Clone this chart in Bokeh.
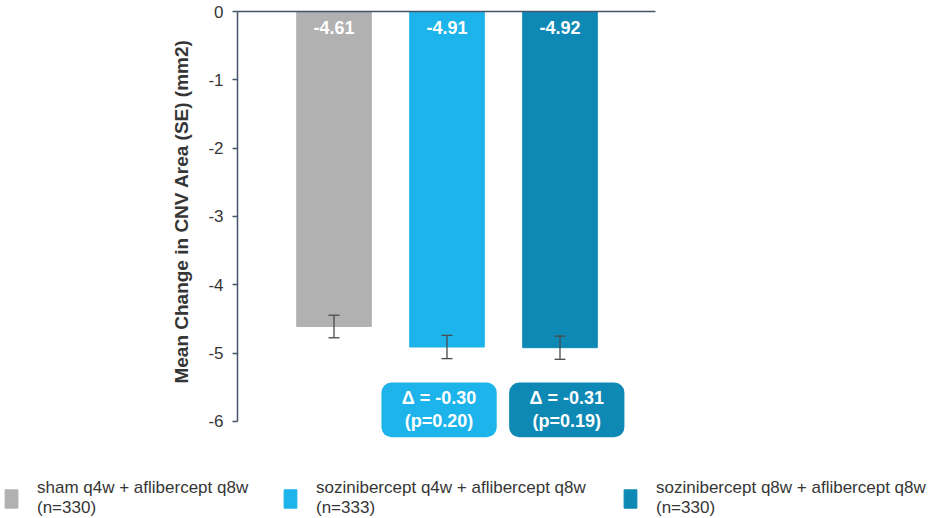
import math
from bokeh.plotting import figure
from bokeh.models import (ColumnDataSource, Range1d, FixedTicker, Whisker,
                          TeeHead, BoxAnnotation, Legend, LegendItem, Label)
from bokeh.embed import file_html
from bokeh.resources import INLINE
from bokeh.core.properties import value

# ---- data ----
groups = ["sham q4w + aflibercept q8w", "sozinibercept q4w + aflibercept q8w",
          "sozinibercept q8w + aflibercept q8w"]
n_labels = ["(n=330)", "(n=333)", "(n=330)"]
means = [-4.61, -4.91, -4.92]
se = [0.165, 0.17, 0.17]
delta_labels = [None, "\u0394 = -0.30", "\u0394 = -0.31"]
p_labels = [None, "(p=0.20)", "(p=0.19)"]
y_ticks = [0, -1, -2, -3, -4, -5, -6]
y_tick_labels = ["0", "-1", "-2", "-3", "-4", "-5", "-6"]
y_title = "Mean Change in CNV Area (SE) (mm2)"
colors = ["#b1b1b1", "#1cb4ea", "#0e89b5"]

FONT = "Liberation Sans"
AXIS_COLOR = "#44546a"
TEXT_COLOR = "#363636"

xs = [1, 2, 3]
src = ColumnDataSource(dict(
    x=xs, top=means, color=colors,
    lbl=["%.2f" % m for m in means],
    upper=[m + s for m, s in zip(means, se)],
    lower=[m - s for m, s in zip(means, se)],
))

# layout: frame fills the whole canvas; axes are pinned inside it
W, H = 929, 518
PX_X = 113.0          # pixels per x unit
PX_Y = 68.33          # pixels per y unit
X1_PX = 333.5         # canvas x of first bar
Y0_PX = 11.0          # canvas y of value 0
AXIS_PX = 237.0
TOP_LINE_END = 655.0


def xd(px):
    return 1 + (px - X1_PX) / PX_X


def yd(py):
    return -(py - Y0_PX) / PX_Y


p = figure(width=W, height=H, output_backend="svg", toolbar_location=None,
           x_range=Range1d(xd(0), xd(W)), y_range=Range1d(yd(H), yd(0)),
           min_border=0)
p.outline_line_color = None
p.grid.visible = False
p.background_fill_color = "white"
p.border_fill_color = "white"

bars = p.vbar(x="x", top="top", bottom=0, width=0.66, color="color", source=src)

p.text(x="x", y=0, text="lbl", source=src, text_color="white",
       text_font=value(FONT), text_font_style="bold", text_font_size="18px",
       text_align="center", text_baseline="middle", y_offset=16)

w = Whisker(base="x", upper="upper", lower="lower", source=src, level="annotation",
            line_color="#4a4a4a", line_width=1.3,
            upper_head=TeeHead(size=11, line_color="#4a4a4a", line_width=1.3),
            lower_head=TeeHead(size=11, line_color="#4a4a4a", line_width=1.3))
p.add_layout(w)

# x axis: just the line along value 0
xa = p.xaxis[0]
xa.fixed_location = 0
xa.bounds = (xd(AXIS_PX), xd(TOP_LINE_END))
xa.ticker = FixedTicker(ticks=[])
xa.axis_line_color = AXIS_COLOR
xa.axis_line_width = 1.5
xa.major_tick_line_color = None
xa.minor_tick_line_color = None
xa.major_label_text_font_size = "0px"

ax = p.yaxis[0]
ax.fixed_location = xd(AXIS_PX)
ax.ticker = FixedTicker(ticks=y_ticks)
ax.major_label_overrides = {t: s for t, s in zip(y_ticks, y_tick_labels)}
ax.bounds = (-6, 0)
ax.axis_line_color = AXIS_COLOR
ax.axis_line_width = 1.5
ax.major_tick_line_color = AXIS_COLOR
ax.major_tick_line_width = 1.5
ax.major_tick_out = 5
ax.major_tick_in = 0
ax.minor_tick_line_color = None
ax.major_label_text_font = FONT
ax.major_label_text_font_size = "17px"
ax.major_label_text_color = TEXT_COLOR
ax.major_label_standoff = 9

# y-axis title
p.add_layout(Label(x=xd(181), y=yd(211), text=y_title, angle=math.pi / 2,
                   text_align="center", text_baseline="middle", text_font=FONT,
                   text_font_style="bold", text_font_size="19px",
                   text_color=TEXT_COLOR))

box_shift = [0, -0.07, 0.06]
box_half = 0.51
for x, d, pl, c, sh in zip(xs, delta_labels, p_labels, colors, box_shift):
    if d is None:
        continue
    cx = x + sh
    p.add_layout(BoxAnnotation(left=cx - box_half, right=cx + box_half,
                               top=-5.43, bottom=-6.23, fill_color=c,
                               fill_alpha=1, line_alpha=0, border_radius=10,
                               level="underlay"))
    p.text(x=[cx], y=[-5.65], text=[d], text_color="white",
           text_font=value(FONT), text_font_style="bold", text_font_size="18px",
           text_align="center", text_baseline="middle")
    p.text(x=[cx], y=[-5.99], text=[pl], text_color="white",
           text_font=value(FONT), text_font_style="bold", text_font_size="18px",
           text_align="center", text_baseline="middle")

# ---- legends (one per item, placed in screen px from the frame's bottom-left) ----
leg_x = [3, 282, 622]
for i, (g, nl, lx) in enumerate(zip(groups, n_labels, leg_x)):
    leg = Legend(items=[LegendItem(label=g + "\n" + nl, renderers=[bars], index=i)],
                 location=(lx, 0), orientation="horizontal",
                 glyph_width=16, glyph_height=23, label_standoff=18,
                 padding=0, margin=0, border_line_color=None,
                 background_fill_alpha=0, label_text_font=FONT,
                 label_text_font_size="17px", label_text_color=TEXT_COLOR,
                 label_text_line_height=1.0)
    p.add_layout(leg)

open("out.html", "w").write(file_html(p, INLINE))
